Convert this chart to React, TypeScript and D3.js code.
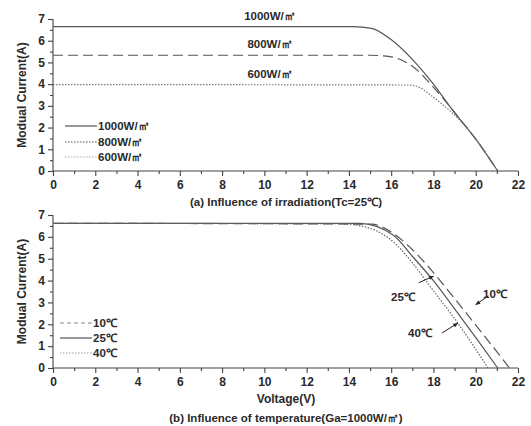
import React, { useEffect, useRef } from 'react'
import * as d3 from 'd3'

// x ticks (voltage)
const voltTicks = [0, 2, 4, 6, 8, 10, 12, 14, 16, 18, 20, 22]
const currTicks = [0, 1, 2, 3, 4, 5, 6, 7]

// (a) irradiation curves, Tc = 25
const irrLabels = ['1000W/㎡', '800W/㎡', '600W/㎡']
const irr1000V = [0, 14.2, 15.07, 16.01, 17.02, 17.97, 18.9, 20.03, 21.04]
const irr1000I = [6.65, 6.65, 6.57, 6.04, 5.12, 4.04, 2.81, 1.43, 0]
const irr800V = [0, 15.0, 15.93, 17.02, 17.97, 18.5, 18.9, 20.03, 21.04]
const irr800I = [5.33, 5.33, 5.27, 4.81, 3.89, 3.3, 2.81, 1.43, 0]
const irr600V = [0, 16.9, 17.4, 17.97, 18.9, 19.5, 20.03, 21.04]
const irr600I = [3.98, 3.96, 3.82, 3.42, 2.66, 2.07, 1.43, 0]

// (b) temperature curves, Ga = 1000
const tempLabels = ['10℃', '25℃', '40℃']
const t10V = [0, 15.07, 16.09, 17.02, 17.97, 18.9, 20.03, 21.1, 21.6]
const t10I = [6.62, 6.58, 6.16, 5.4, 4.4, 3.3, 1.93, 0.62, 0]
const t25V = [0, 14.5, 16.09, 17.02, 17.97, 19.12, 20.03, 21.04]
const t25I = [6.62, 6.62, 6.08, 5.09, 4.03, 2.55, 1.36, 0]
const t40V = [0, 13.6, 14.99, 16.09, 17.02, 17.97, 19.12, 20.58]
const t40I = [6.62, 6.6, 6.39, 5.78, 4.79, 3.57, 2.1, 0]

const W = 531
const H = 426
const LINE = '#555'
const TXT = '#2a2a2a'
const FONT = '"Liberation Sans", Arial, sans-serif'

export default function App() {
  const ref = useRef<SVGSVGElement>(null)

  useEffect(() => {
    const svg = d3.select(ref.current)
    svg.selectAll('*').remove()

    const defs = svg.append('defs')
    defs.append('marker')
      .attr('id', 'arr')
      .attr('viewBox', '0 0 10 10')
      .attr('refX', 9).attr('refY', 5)
      .attr('markerWidth', 6).attr('markerHeight', 5)
      .attr('orient', 'auto')
      .append('path').attr('d', 'M0,1 L10,5 L0,9 z').attr('fill', '#222')

    const x = d3.scaleLinear().domain([0, 22]).range([53, 518])

    const drawPanel = (y0: number, y7: number, series: any[], legend: any[], legendX: number, legendY: number[], xLabel: string | null, title: string, titleY: number) => {
      const y = d3.scaleLinear().domain([0, 7]).range([y0, y7])
      const g = svg.append('g')

      // axes
      const xAxis = d3.axisBottom(x).tickValues(voltTicks).tickSize(5).tickPadding(4).tickFormat(d3.format('d'))
      const gx = g.append('g').attr('transform', `translate(0,${y0})`).call(xAxis)
      g.append('g').attr('transform', `translate(0,${y0})`)
        .call(d3.axisBottom(x).tickValues(d3.range(1, 22, 2)).tickSize(3).tickFormat(() => ''))
        .select('.domain').remove()
      const gy = g.append('g').attr('transform', 'translate(53,0)')
        .call(d3.axisLeft(y).tickValues(currTicks).tickSize(5).tickPadding(3).tickFormat(d3.format('d')))
      g.append('g').attr('transform', 'translate(53,0)')
        .call(d3.axisLeft(y).tickValues(d3.range(0.5, 7, 1)).tickSize(3).tickFormat(() => ''))
        .select('.domain').remove()

      g.selectAll('.domain, .tick line').attr('stroke', '#444').attr('stroke-width', 1.1)
      gx.selectAll('text').attr('font-size', 12).attr('font-weight', 'bold').attr('fill', TXT).attr('font-family', FONT)
      gy.selectAll('text').attr('font-size', 12).attr('font-weight', 'bold').attr('fill', TXT).attr('font-family', FONT)
      gx.selectAll('.domain').attr('d', `M53,0H518`)
      gy.selectAll('.domain').attr('d', `M0,${y0}V${y7}`)

      g.append('text')
        .attr('transform', `translate(26,${(y0 + y7) / 2}) rotate(-90)`)
        .attr('text-anchor', 'middle')
        .attr('font-size', 12).attr('font-weight', 'bold').attr('font-family', FONT).attr('fill', TXT)
        .text('Modual Current(A)')

      if (xLabel) {
        g.append('text').attr('x', 286).attr('y', y0 + 35).attr('text-anchor', 'middle')
          .attr('font-size', 12).attr('font-weight', 'bold').attr('font-family', FONT).attr('fill', TXT)
          .text(xLabel)
      }
      g.append('text').attr('x', 286).attr('y', titleY).attr('text-anchor', 'middle')
        .attr('font-size', 11.5).attr('font-weight', 'bold').attr('font-family', FONT).attr('fill', TXT)
        .text(title)

      const line = d3.line<[number, number]>()
        .x(d => x(d[0])).y(d => y(d[1]))
        .curve(d3.curveMonotoneX)

      series.forEach(s => {
        g.append('path')
          .datum(d3.zip(s.v, s.i) as [number, number][])
          .attr('d', line)
          .attr('fill', 'none')
          .attr('stroke', s.color || LINE)
          .attr('stroke-width', s.width || 1.2)
          .attr('stroke-dasharray', s.dash || null)
      })

      legend.forEach((l, k) => {
        g.append('line')
          .attr('x1', legendX).attr('x2', legendX + 32)
          .attr('y1', legendY[k]).attr('y2', legendY[k])
          .attr('stroke', l.color || LINE).attr('stroke-width', 1.2)
          .attr('stroke-dasharray', l.dash || null)
        g.append('text').attr('x', legendX + 33).attr('y', legendY[k] + 4)
          .attr('font-size', 11.5).attr('font-weight', 'bold').attr('font-family', FONT).attr('fill', TXT)
          .text(l.label)
      })
      return y
    }

    // (a)
    const ya = drawPanel(171, 19, [
      { v: irr1000V, i: irr1000I },
      { v: irr800V, i: irr800I, dash: '10,5' },
      { v: irr600V, i: irr600I, dash: '1.5,1.5', color: '#777' },
    ], [
      { label: irrLabels[0] },
      { label: irrLabels[1], dash: '1.5,1.5' },
      { label: irrLabels[2], dash: '1.5,1.5', color: '#aaa' },
    ], 65, [126, 142, 157], null, '(a) Influence of irradiation(Tc=25℃)', 206)

    const curveLabels = [
      { t: irrLabels[0], v: 6.65 },
      { t: irrLabels[1], v: 5.33 },
      { t: irrLabels[2], v: 3.98 },
    ]
    curveLabels.forEach(c => {
      svg.append('text').attr('x', 270).attr('y', ya(c.v) - 7).attr('text-anchor', 'middle')
        .attr('font-size', 11.5).attr('font-weight', 'bold').attr('font-family', FONT).attr('fill', TXT)
        .text(c.t)
    })

    // (b)
    const yb = drawPanel(368, 215, [
      { v: t10V, i: t10I, dash: '10,5' },
      { v: t25V, i: t25I },
      { v: t40V, i: t40I, dash: '1.5,1.5', color: '#666' },
    ], [
      { label: tempLabels[0], dash: '4,3', color: '#888' },
      { label: tempLabels[1] },
      { label: tempLabels[2], dash: '1.5,1.5', color: '#999' },
    ], 60, [323, 338, 353], 'Voltage(V)', '(b) Influence of temperature(Ga=1000W/㎡)', 422)

    // arrow annotations on panel (b)
    const notes = [
      { t: tempLabels[1], tx: 403, ty: 301, from: [17.3, 3.9], to: [18.0, 4.2] },
      { t: tempLabels[0], tx: 495, ty: 298, from: [20.6, 3.3], to: [20.0, 2.9] },
      { t: tempLabels[2], tx: 420, ty: 337, from: [18.4, 1.6], to: [19.15, 2.05] },
    ]
    notes.forEach(n => {
      svg.append('line')
        .attr('x1', x(n.from[0])).attr('y1', yb(n.from[1]))
        .attr('x2', x(n.to[0])).attr('y2', yb(n.to[1]))
        .attr('stroke', '#222').attr('stroke-width', 1)
        .attr('marker-end', 'url(#arr)')
      svg.append('text').attr('x', n.tx).attr('y', n.ty).attr('text-anchor', 'middle')
        .attr('font-size', 11.5).attr('font-weight', 'bold').attr('font-family', FONT).attr('fill', TXT)
        .text(n.t)
    })
  }, [])

  return (
    <svg ref={ref} width={W} height={H}
      style={{ position: 'absolute', left: 0, top: 0, background: '#fff' }} />
  )
}
